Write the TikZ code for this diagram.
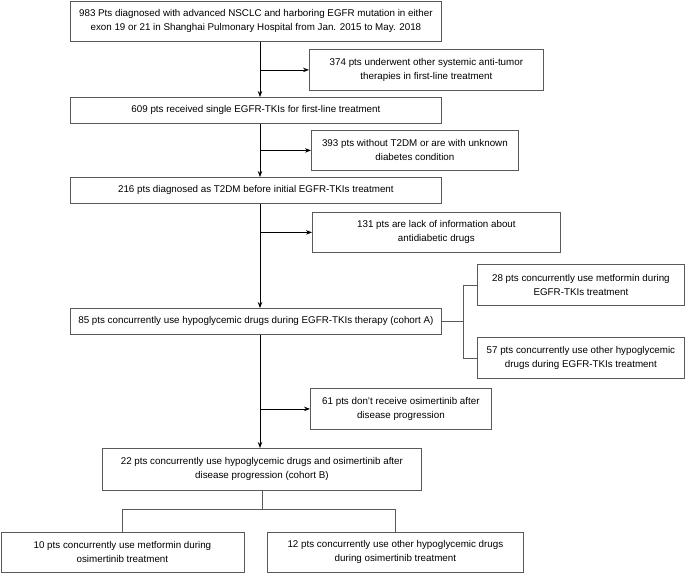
\documentclass[tikz,border=0pt]{standalone}
\usepackage{fontspec}
\setmainfont{Liberation Sans}
\usetikzlibrary{arrows.meta}
\begin{document}
\begin{tikzpicture}[x=1pt,y=-1pt,
  box/.style={draw=black!65, line width=0.8pt, align=center, inner sep=0pt, anchor=north west,
    font=\fontsize{9.8}{14}\selectfont},
  arr/.style={draw=black, line width=0.8pt, -{Stealth[length=6pt,width=4.5pt]}},
  ln/.style={draw=black!65, line width=0.8pt}]
\useasboundingbox (0,0) rectangle (685,573);
\fill[white] (0,0) rectangle (685,573);
\coordinate (m) at (260,0);
\coordinate (br) at (463,0);
\node[box, minimum width=371pt, minimum height=40pt] (b1) at (70,1) {983 Pts diagnosed with advanced NSCLC and harboring EGFR mutation in either\\exon 19 or 21 in Shanghai Pulmonary Hospital from Jan. 2015 to May. 2018};
\node[box, minimum width=234pt, minimum height=41pt] (b374) at (309,49) {374 pts underwent other systemic anti-tumor\\therapies in first-line treatment};
\node[box, minimum width=371pt, minimum height=26pt] (b2) at (70,97) {609 pts received single EGFR-TKIs for first-line treatment};
\node[box, minimum width=207pt, minimum height=40pt] (b393) at (311,130) {393 pts without T2DM or are with unknown\\diabetes condition};
\node[box, minimum width=371pt, minimum height=26pt] (b3) at (70,177) {216 pts diagnosed as T2DM before initial EGFR-TKIs treatment};
\node[box, minimum width=248pt, minimum height=40pt] (b131) at (312,212) {131 pts are lack of information about\\antidiabetic drugs};
\node[box, minimum width=371pt, minimum height=26pt] (bA) at (70,308) {85 pts concurrently use hypoglycemic drugs during EGFR-TKIs therapy (cohort A)};
\node[box, minimum width=207pt, minimum height=41pt] (b28) at (477,264) {28 pts concurrently use metformin during\\EGFR-TKIs treatment};
\node[box, minimum width=207pt, minimum height=41pt] (b57) at (477,337) {57 pts concurrently use other hypoglycemic\\drugs during EGFR-TKIs treatment};
\node[box, minimum width=181pt, minimum height=41pt] (b61) at (310,388) {61 pts don't receive osimertinib after\\disease progression};
\node[box, minimum width=319pt, minimum height=42pt] (bB) at (102,448) {22 pts concurrently use hypoglycemic drugs and osimertinib after\\disease progression (cohort B)};
\node[box, minimum width=243pt, minimum height=40pt] (b10) at (0.5,532) {10 pts concurrently use metformin during\\osimertinib treatment};
\node[box, minimum width=256pt, minimum height=40pt] (b12) at (267,532) {12 pts concurrently use other hypoglycemic drugs\\during osimertinib treatment};
% main flow
\draw[arr] (b1.south -| m) -- (b2.north -| m);
\draw[arr] (b374.west -| m) -- (b374.west);
\draw[arr] (b2.south -| m) -- (b3.north -| m);
\draw[arr] (b393.west -| m) -- (b393.west);
\draw[arr] (b3.south -| m) -- (bA.north -| m);
\draw[arr] (b131.west -| m) -- (b131.west);
\draw[arr] (bA.south -| m) -- (bB.north -| m);
\draw[arr] (b61.west -| m) -- (b61.west);
% bracket
\draw[ln] (bA.east) -- (bA.east -| br);
\draw[ln] (b28.west -| br) -- (b57.west -| br);
\draw[ln] (b28.west -| br) -- (b28.west);
\draw[ln] (b57.west -| br) -- (b57.west);
% bottom tree
\coordinate (j) at (0,509);
\draw[ln] (bB.south) -- (bB.south |- j);
\draw[ln] (b10.north) -- (b10.north |- j) -- (b12.north |- j) -- (b12.north);
\end{tikzpicture}
\end{document}
